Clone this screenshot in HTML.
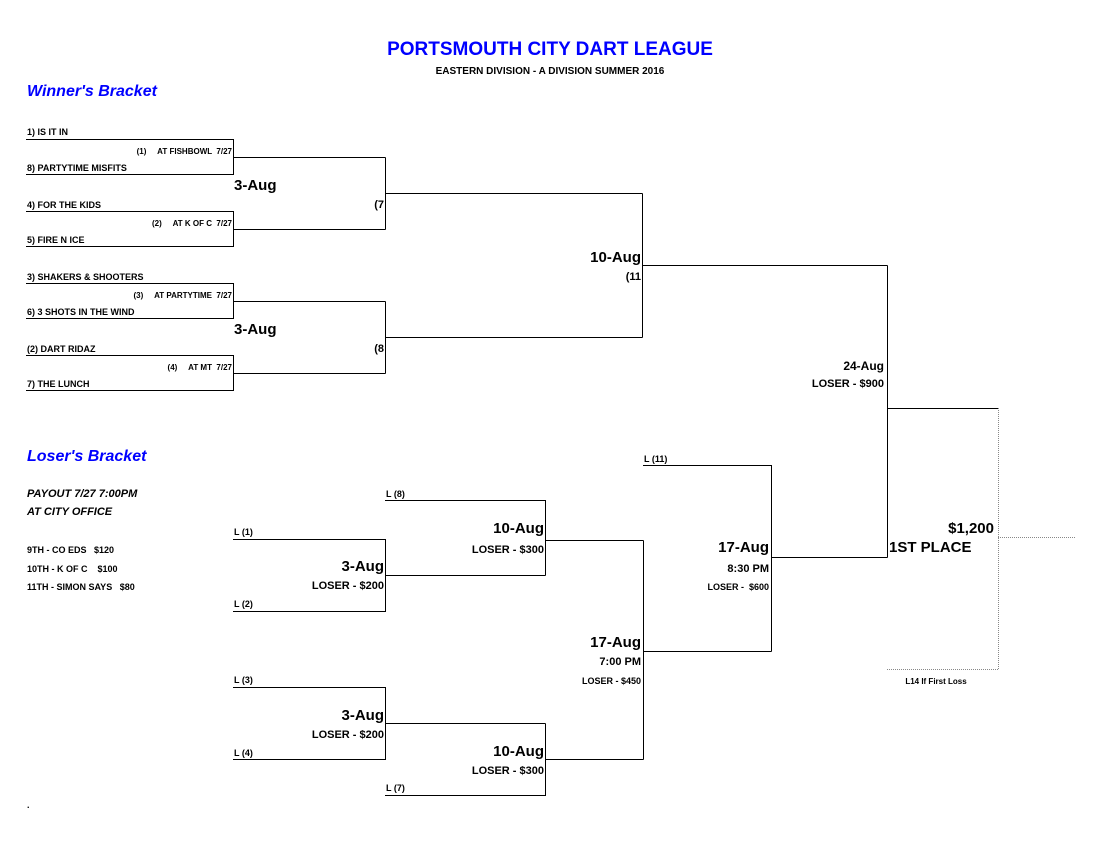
<!DOCTYPE html>
<html><head><meta charset="utf-8"><style>
body{margin:0;background:#fff}
svg{display:block}
text{font-family:"Liberation Sans",Arial,sans-serif;font-weight:bold;fill:#000}
.s{font-size:9px}.m{font-size:11px}.b{font-size:14px}.bb{font-size:15px}
.t{fill:#0000ff}
</style></head><body>
<svg width="1100" height="850" viewBox="0 0 1100 850">
<g stroke="#000" stroke-width="1" fill="none">
<path d="M26 139.5H233.5V174.5H26"/><path d="M233.5 157.5H385.5"/>
<path d="M26 211.5H233.5V246.5H26"/><path d="M233.5 229.5H385.5"/>
<path d="M26 283.5H233.5V318.5H26"/><path d="M233.5 301.5H385.5"/>
<path d="M26 355.5H233.5V390.5H26"/><path d="M233.5 373.5H385.5"/>
<path d="M385.5 157.5V229.5M385.5 193.5H642.5"/>
<path d="M385.5 301.5V373.5M385.5 337.5H642.5"/>
<path d="M642.5 193.5V337.5M642.5 265.5H887.5"/>
<path d="M887.5 265.5V557.5M887.5 408.5H998"/>
<path d="M233 539.5H385.5V611.5H233M385.5 575.5H545.5"/>
<path d="M385 500.5H545.5V575.5M545.5 540.5H643.5"/>
<path d="M233 687.5H385.5V759.5H233M385.5 723.5H545.5"/>
<path d="M385 795.5H545.5V723.5M545.5 759.5H643.5"/>
<path d="M643.5 540.5V759.5M643.5 651.5H771.5"/>
<path d="M643 465.5H771.5V651.5M771.5 557.5H887.5"/>
</g>
<g stroke="#888" stroke-width="1" fill="none" stroke-dasharray="1,1">
<path d="M998.5 408V669.5H887M998 537.5H1075"/>
</g>
<text x="550" y="55" text-anchor="middle" class="t" style="font-size:19px">PORTSMOUTH CITY DART LEAGUE</text>
<text x="550" y="74" text-anchor="middle" class="s" style="font-size:10px">EASTERN DIVISION - A DIVISION SUMMER 2016</text>
<text x="27" y="96" class="t" style="font-size:16px;font-style:italic">Winner's Bracket</text>
<text x="27" y="461" class="t" style="font-size:16px;font-style:italic">Loser's Bracket</text>
<g class="s">
<text x="27" y="135">1) IS IT IN</text>
<text x="27" y="171">8) PARTYTIME MISFITS</text>
<text x="27" y="208">4) FOR THE KIDS</text>
<text x="27" y="243">5) FIRE N ICE</text>
<text x="27" y="280">3) SHAKERS &amp; SHOOTERS</text>
<text x="27" y="315">6) 3 SHOTS IN THE WIND</text>
<text x="27" y="352">(2) DART RIDAZ</text>
<text x="27" y="387">7) THE LUNCH</text>
<text x="27" y="553">9TH - CO EDS &#160; $120</text>
<text x="27" y="572">10TH - K OF C &#160;&#160; $100</text>
<text x="27" y="590">11TH - SIMON SAYS &#160; $80</text>
<text x="234" y="535">L (1)</text><text x="234" y="607">L (2)</text>
<text x="234" y="683">L (3)</text><text x="234" y="756">L (4)</text>
<text x="386" y="497">L (8)</text><text x="386" y="791">L (7)</text>
<text x="644" y="462">L (11)</text>
<text x="936" y="684" text-anchor="middle" style="font-size:8px">L14 If First Loss</text>
</g>
<g class="s" style="font-size:8px" text-anchor="end">
<text x="232" y="154">(1) &#160;&#160;&#160; AT FISHBOWL &#160;7/27</text>
<text x="232" y="226">(2) &#160;&#160;&#160; AT K OF C &#160;7/27</text>
<text x="232" y="298">(3) &#160;&#160;&#160; AT PARTYTIME &#160;7/27</text>
<text x="232" y="370">(4) &#160;&#160;&#160; AT MT &#160;7/27</text>
</g>
<text x="27" y="497" class="m" style="font-style:italic">PAYOUT 7/27 7:00PM</text>
<text x="27" y="515" class="m" style="font-style:italic">AT CITY OFFICE</text>
<g class="bb">
<text x="234" y="190">3-Aug</text>
<text x="234" y="334">3-Aug</text>
</g>
<g class="m" text-anchor="end">
<text x="384" y="208">(7</text>
<text x="384" y="352">(8</text>
<text x="641" y="280">(11</text>
<text x="884" y="387">LOSER - $900</text>
<text x="384" y="589">LOSER - $200</text>
<text x="384" y="738">LOSER - $200</text>
<text x="544" y="553">LOSER - $300</text>
<text x="544" y="774">LOSER - $300</text>
<text x="641" y="665">7:00 PM</text>
<text x="769" y="572">8:30 PM</text>
</g>
<g class="s" text-anchor="end">
<text x="641" y="684">LOSER - $450</text>
<text x="769" y="590">LOSER - &#160;$600</text>
</g>
<g class="bb" text-anchor="end">
<text x="641" y="262">10-Aug</text>
<text x="884" y="370" style="font-size:12px">24-Aug</text>
<text x="384" y="571">3-Aug</text>
<text x="384" y="720">3-Aug</text>
<text x="544" y="533">10-Aug</text>
<text x="544" y="756">10-Aug</text>
<text x="641" y="647">17-Aug</text>
<text x="769" y="552">17-Aug</text>
<text x="994" y="533">$1,200</text>
</g>
<text x="889" y="552" class="bb">1ST PLACE</text>
<text x="27" y="808" class="s">.</text>
</svg>
</body></html>
